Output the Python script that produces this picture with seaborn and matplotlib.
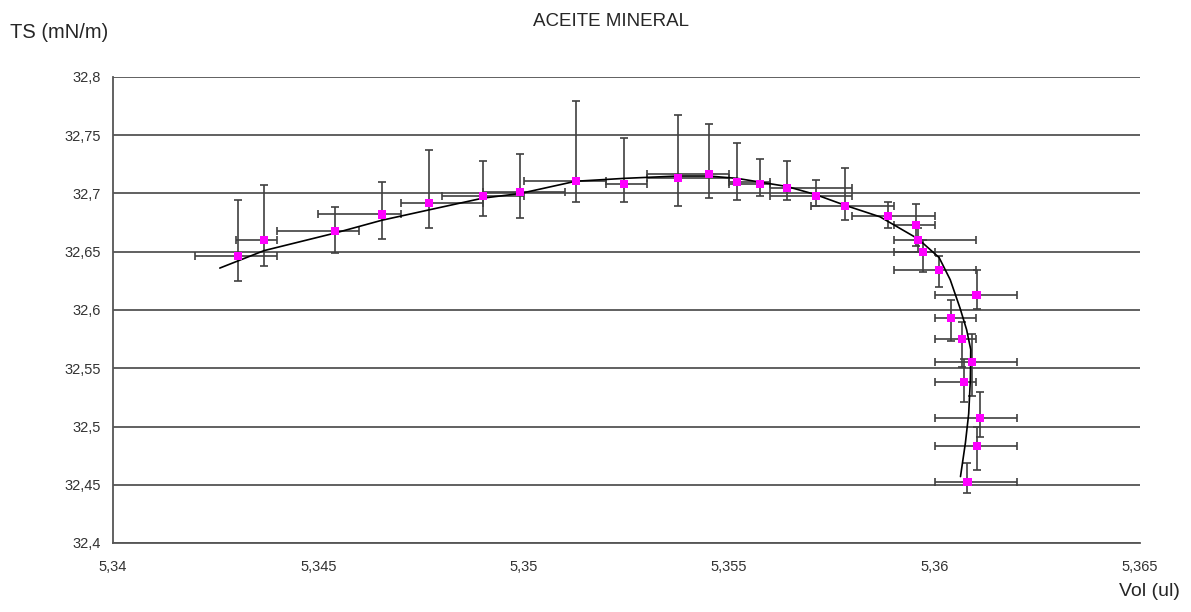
import numpy as np
import pandas as pd
import matplotlib
matplotlib.use("Agg")
import matplotlib.pyplot as plt
import seaborn as sns
from matplotlib.ticker import FuncFormatter, MultipleLocator

# medidas: volumen (ul) y tension superficial (mN/m)
vol = [5.34305, 5.34368, 5.34540, 5.34654, 5.34770, 5.34900, 5.34991, 5.35126,
       5.35245, 5.35375, 5.35450, 5.35519, 5.35575, 5.35641, 5.35711, 5.35781,
       5.35886, 5.35955, 5.35960, 5.35971, 5.36011, 5.36102, 5.36041, 5.36066,
       5.36090, 5.36072, 5.36111, 5.36103, 5.36080]
ts = [32.646, 32.660, 32.668, 32.682, 32.692, 32.698, 32.701, 32.711,
      32.708, 32.713, 32.717, 32.710, 32.708, 32.705, 32.698, 32.689,
      32.681, 32.673, 32.660, 32.650, 32.634, 32.613, 32.593, 32.575,
      32.555, 32.538, 32.507, 32.483, 32.452]

# extremos de las barras de error
vol_lo = [5.3420, 5.3430, 5.3440, 5.3450, 5.3470, 5.3480, 5.3490, 5.3500,
          5.3520, 5.3530, 5.3530, 5.3550, 5.3550, 5.3560, 5.3560, 5.3570,
          5.3580, 5.3590, 5.3590, 5.3590, 5.3590, 5.3600, 5.3600, 5.3600,
          5.3600, 5.3600, 5.3600, 5.3600, 5.3600]
vol_hi = [5.3440, 5.3440, 5.3460, 5.3470, 5.3490, 5.3500, 5.3510, 5.3520,
          5.3530, 5.3550, 5.3550, 5.3560, 5.3560, 5.3580, 5.3580, 5.3590,
          5.3600, 5.3600, 5.3610, 5.3600, 5.3610, 5.3620, 5.3610, 5.3610,
          5.3620, 5.3610, 5.3620, 5.3620, 5.3620]
ts_lo = [32.625, 32.638, 32.649, 32.661, 32.670, 32.681, 32.679, 32.693,
         32.693, 32.689, 32.696, 32.694, 32.698, 32.694, 32.689, 32.677,
         32.670, 32.655, 32.650, 32.633, 32.620, 32.601, 32.573, 32.551,
         32.526, 32.521, 32.491, 32.463, 32.443]
ts_hi = [32.694, 32.707, 32.688, 32.710, 32.737, 32.728, 32.734, 32.779,
         32.748, 32.767, 32.760, 32.743, 32.730, 32.728, 32.712, 32.722,
         32.693, 32.691, 32.670, 32.660, 32.646, 32.634, 32.609, 32.590,
         32.579, 32.558, 32.530, 32.500, 32.469]

# linea de tendencia
curva_vol = [5.34260, 5.34368, 5.34540, 5.34654, 5.34770, 5.34900, 5.34991,
             5.35126, 5.35245, 5.35375, 5.35450, 5.35519, 5.35641, 5.35711,
             5.35781, 5.35867, 5.35960, 5.36011, 5.36038, 5.36062, 5.36078,
             5.36088, 5.36087, 5.36083, 5.36075, 5.36063]
curva_ts = [32.636, 32.651, 32.666, 32.677, 32.686, 32.696, 32.700,
            32.7105, 32.713, 32.715, 32.715, 32.713, 32.706, 32.699,
            32.690, 32.680, 32.661, 32.645, 32.626, 32.6015, 32.583,
            32.566, 32.540, 32.511, 32.486, 32.457]

df = pd.DataFrame({"vol": vol, "ts": ts})
curva = pd.DataFrame({"vol": curva_vol, "ts": curva_ts})

sns.set_style("white")
plt.rcParams["font.family"] = ["Liberation Sans", "DejaVu Sans"]

fig = plt.figure(figsize=(11.91, 6.12), dpi=100)
ax = fig.add_axes([113 / 1191, 1 - 543 / 612, 1027 / 1191, 466 / 612])

ax.yaxis.grid(True, color="#606060", lw=1.4)
ax.set_axisbelow(True)

v = np.array(vol)
t = np.array(ts)
xerr = [v - np.array(vol_lo), np.array(vol_hi) - v]
yerr = [t - np.array(ts_lo), np.array(ts_hi) - t]
ax.errorbar(v, t, xerr=xerr, yerr=yerr, fmt="none", ecolor="#404040",
            elinewidth=1.2, capsize=3.2, capthick=1.2, zorder=2)

sns.lineplot(data=curva, x="vol", y="ts", sort=False, estimator=None,
             color="black", lw=1.2, ax=ax, zorder=3)
sns.scatterplot(data=df, x="vol", y="ts", marker="s", color="#ff00ff",
                s=34, edgecolor="none", ax=ax, zorder=4)

ax.set_xlim(5.34, 5.365)
ax.set_ylim(32.4, 32.8)
ax.xaxis.set_major_locator(MultipleLocator(0.005))
ax.yaxis.set_major_locator(MultipleLocator(0.05))
coma = FuncFormatter(lambda val, pos: f"{val:g}".replace(".", ","))
ax.xaxis.set_major_formatter(coma)
ax.yaxis.set_major_formatter(coma)
ax.set_xlabel("")
ax.set_ylabel("")

for s in ["top", "right"]:
    ax.spines[s].set_visible(False)
for s in ["left", "bottom"]:
    ax.spines[s].set_color("#555555")
    ax.spines[s].set_linewidth(1.3)
ax.tick_params(axis="both", direction="out", length=4, width=1.1,
               color="#555555", labelsize=10.5, labelcolor="#333333")
ax.tick_params(axis="y", pad=5)
ax.tick_params(axis="x", pad=8)

fig.text(611 / 1191, 1 - 21 / 612, "ACEITE MINERAL", ha="center", va="center",
         fontsize=13.5)
fig.text(10 / 1191, 1 - 32 / 612, "TS (mN/m)", ha="left", va="center",
         fontsize=14.5)
fig.text(1180 / 1191, 1 - 591 / 612, "Vol (ul)", ha="right", va="center",
         fontsize=14)

fig.savefig("out.png", dpi=100)
